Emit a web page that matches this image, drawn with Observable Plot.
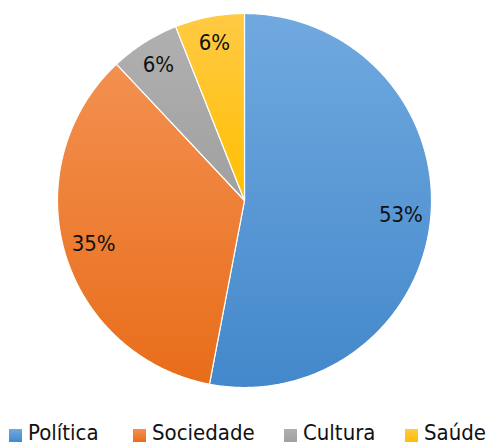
<!DOCTYPE html>
<html><head><meta charset="utf-8">
<script src="https://cdn.jsdelivr.net/npm/d3@7"></script>
<script src="https://cdn.jsdelivr.net/npm/@observablehq/plot@0.6"></script>
<style>
html,body{margin:0;padding:0;background:#fff;}
body{width:489px;height:446px;position:relative;overflow:hidden;font-family:"DejaVu Sans Condensed","DejaVu Sans",sans-serif;}
#chart{position:absolute;left:0;top:0;}
.sw{position:absolute;top:429px;width:13px;height:13px;}
.tx{position:absolute;top:422px;font-size:22px;line-height:22px;color:#111;white-space:nowrap;}
</style></head><body>
<div id="chart"></div>
<div id="legend"></div>
<script>
const categories = ["Política", "Sociedade", "Cultura", "Saúde"];
const values = [53, 35, 6, 6];
const labels = ["53%", "35%", "6%", "6%"];
const topColors = ["#70A9DF", "#F39050", "#B0B0B0", "#FFCA45"];
const bottomColors = ["#4388CB", "#E86D1A", "#A0A0A0", "#FFBF00"];

const W = 489, H = 415, R = 187, CX = 244, CY = 200;
const LABEL_R = 0.84;

const arcs = d3.pie().sort(null).value(d => d)(values);

function slicePoints(a, i) {
  const pts = [{x: 0, y: 0, cat: categories[i]}];
  const n = Math.max(4, Math.ceil((a.endAngle - a.startAngle) / (Math.PI / 360)));
  for (let k = 0; k <= n; k++) {
    const t = a.startAngle + (a.endAngle - a.startAngle) * k / n;
    pts.push({x: Math.sin(t), y: Math.cos(t), cat: categories[i]});
  }
  pts.push({x: 0, y: 0, cat: categories[i]});
  return pts;
}

const labelData = arcs.map((a, i) => {
  const m = (a.startAngle + a.endAngle) / 2;
  const r = (a.endAngle - a.startAngle) < 0.5 ? LABEL_R + 0.02 : LABEL_R;
  return {x: r * Math.sin(m), y: r * Math.cos(m), text: labels[i]};
});

const sliceMarks = arcs.map((a, i) => Plot.line(slicePoints(a, i), {
  x: "x", y: "y", fill: `url(#grad${i})`, stroke: "white", strokeWidth: 1.2, strokeLinejoin: "round"
}));

const svg = Plot.plot({
  width: W, height: H,
  margin: 0,
  x: {domain: [-CX / R, (W - CX) / R], range: [0, W], axis: null},
  y: {domain: [-(H - CY) / R, CY / R], range: [H, 0], axis: null},
  style: {background: "white", fontFamily: "'DejaVu Sans Condensed','DejaVu Sans',sans-serif"},
  marks: [
    ...sliceMarks,
    Plot.text(labelData, {x: "x", y: "y", text: "text", fontSize: 22, fill: "#111", textAnchor: "middle"})
  ]
});

const ns = "http://www.w3.org/2000/svg";
const defs = document.createElementNS(ns, "defs");
categories.forEach((c, i) => {
  const g = document.createElementNS(ns, "linearGradient");
  g.setAttribute("id", `grad${i}`);
  g.setAttribute("x1", "0"); g.setAttribute("y1", "0");
  g.setAttribute("x2", "0"); g.setAttribute("y2", "1");
  [[0, topColors[i]], [1, bottomColors[i]]].forEach(([o, col]) => {
    const s = document.createElementNS(ns, "stop");
    s.setAttribute("offset", o);
    s.setAttribute("stop-color", col);
    g.appendChild(s);
  });
  defs.appendChild(g);
});
svg.insertBefore(defs, svg.firstChild);
document.getElementById("chart").appendChild(svg);

const swatchX = [9, 133, 284, 405];
const legend = document.getElementById("legend");
categories.forEach((c, i) => {
  const sw = document.createElement("div");
  sw.className = "sw";
  sw.style.left = swatchX[i] + "px";
  sw.style.background = `linear-gradient(${topColors[i]}, ${bottomColors[i]})`;
  const tx = document.createElement("div");
  tx.className = "tx";
  tx.style.left = (swatchX[i] + 19) + "px";
  tx.textContent = c;
  legend.appendChild(sw); legend.appendChild(tx);
});
</script>
</body></html>
